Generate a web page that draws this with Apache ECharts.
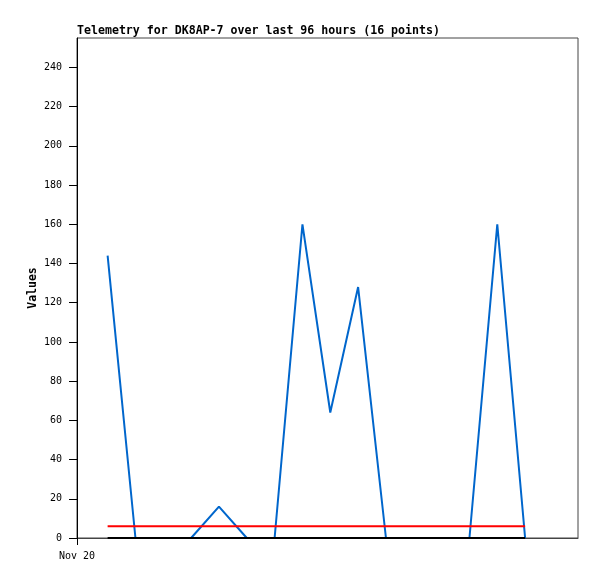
<!DOCTYPE html>
<html>
<head>
<meta charset="utf-8">
<script src="https://cdn.jsdelivr.net/npm/echarts@6/dist/echarts.min.js"></script>
<style>
  html, body { margin: 0; padding: 0; background: #fff; }
  #chart { width: 597px; height: 579px; }
</style>
</head>
<body>
<div id="chart"></div>
<script>
// hours after Nov 20 00:00
var hours = [6.6, 12.6, 18.6, 24.6, 30.6, 36.6, 42.6, 48.6, 54.6, 60.6, 66.6, 72.6, 78.6, 84.6, 90.6, 96.6]
var valuesBlue = [144, 0, 0, 0, 16, 0, 0, 160, 64, 128, 0, 0, 0, 0, 160, 0]
var valuesRed = [6, 6, 6, 6, 6, 6, 6, 6, 6, 6, 6, 6, 6, 6, 6, 6]
var valuesBlack = [0, 0, 0, 0, 0, 0, 0, 0, 0, 0, 0, 0, 0, 0, 0, 0]
var yTicks = [0, 20, 40, 60, 80, 100, 120, 140, 160, 180, 200, 220, 240]
var xLabels = ['Nov 20']

function pairs(vals) {
  return vals.map(function (v, i) { return [hours[i], v] })
}

var mono = 'DejaVu Sans Mono'
var chart = echarts.init(document.getElementById('chart'))
chart.setOption({
  animation: false,
  backgroundColor: '#fff',
  title: {
    text: 'Telemetry for DK8AP-7 over last 96 hours (16 points)',
    left: 77,
    top: 25,
    padding: 0,
    textStyle: { fontFamily: mono, fontSize: 11.6, fontWeight: 'bold', color: '#000' }
  },
  grid: {
    left: 77,
    right: 19,
    top: 38,
    bottom: 41,
    show: true,
    borderColor: '#444',
    borderWidth: 1
  },
  xAxis: {
    type: 'value',
    min: 0,
    max: 108,
    splitLine: { show: false },
    axisLine: { show: true, lineStyle: { color: '#444', width: 1 } },
    axisTick: { show: true, length: 7, customValues: [0], lineStyle: { color: '#000' } },
    axisLabel: {
      customValues: [0],
      formatter: function () { return xLabels[0] },
      fontFamily: mono,
      fontSize: 10,
      color: '#000',
      margin: 13
    }
  },
  yAxis: {
    type: 'value',
    min: 0,
    max: 255,
    name: 'Values',
    nameLocation: 'middle',
    nameGap: 38,
    nameMoveOverlap: false,
    nameTextStyle: { fontFamily: mono, fontSize: 11.5, fontWeight: 'bold', color: '#000' },
    splitLine: { show: false },
    axisLine: { show: true, lineStyle: { color: '#000', width: 1 } },
    axisTick: { show: true, length: 8, customValues: yTicks, lineStyle: { color: '#000' } },
    axisLabel: {
      customValues: yTicks,
      fontFamily: mono,
      fontSize: 10,
      color: '#000',
      margin: 15
    }
  },
  series: [
    {
      type: 'line',
      data: pairs(valuesBlue),
      showSymbol: false,
      lineStyle: { color: '#0066cc', width: 2 },
      z: 2
    },
    {
      type: 'line',
      data: pairs(valuesRed),
      showSymbol: false,
      lineStyle: { color: '#ff0000', width: 2 },
      z: 3
    },
    {
      type: 'line',
      data: pairs(valuesBlack),
      showSymbol: false,
      lineStyle: { color: '#000000', width: 2 },
      z: 4
    }
  ]
})
</script>
</body>
</html>
